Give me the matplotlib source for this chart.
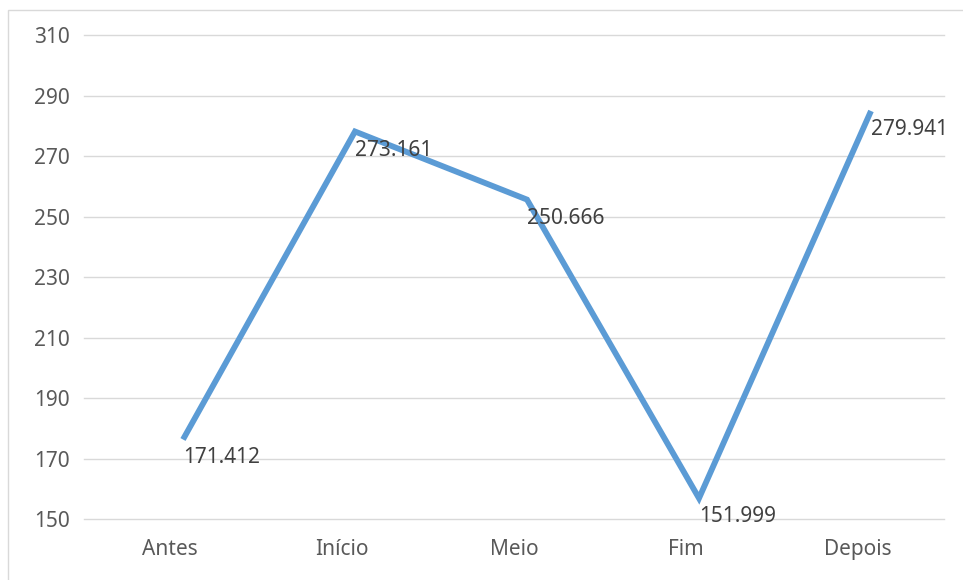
import matplotlib
matplotlib.use("Agg")
import matplotlib.pyplot as plt
import matplotlib.transforms as mtransforms
from matplotlib.patches import Rectangle

plt.rcParams['font.family'] = ['Noto Sans', 'DejaVu Sans']

categories = ['Antes', 'Início', 'Meio', 'Fim', 'Depois']
values = [171.412, 273.161, 250.666, 151.999, 279.941]
value_labels = ['171.412', '273.161', '250.666', '151.999', '279.941']
yticks = [150, 170, 190, 210, 230, 250, 270, 290, 310]

fig = plt.figure(figsize=(9.63, 5.8), dpi=100)
ax = fig.add_axes([84 / 963, 1 - 519.3 / 580, 860 / 963, (519.3 - 35) / 580])

# chart frame (only top and left edges show in the screenshot)
fig.patches.append(Rectangle((7.5 / 963, -0.1), 1.2, 1.1 - 10 / 580,
                             transform=fig.transFigure, fill=False,
                             edgecolor='#D9D9D9', linewidth=1.0))

x = list(range(len(categories)))

# the line sits a little right of / above the labelled values in the source
shift = mtransforms.offset_copy(ax.transData, fig=fig, x=13, y=15, units='dots')
ax.plot(x, values, color='#5B9BD5', linewidth=4.2, solid_joinstyle='miter',
        solid_capstyle='butt', transform=shift, zorder=3)

for xi, v, lab in zip(x, values, value_labels):
    ax.annotate(lab, (xi, v), xytext=(13, -9), textcoords='offset pixels',
                ha='left', va='baseline', fontsize=15, color='#404040', zorder=4)

ax.set_xlim(-0.5, len(categories) - 0.5)
ax.set_ylim(150, 310)
ax.set_yticks(yticks)
ax.set_xticks(x)
ax.set_xticklabels(categories)
ax.grid(axis='y', color='#D9D9D9', linewidth=1.0)
for gl in ax.get_ygridlines():
    gl.set_clip_on(False)
ax.set_axisbelow(True)
for s in ax.spines.values():
    s.set_visible(False)
ax.tick_params(axis='both', length=0, labelsize=15, labelcolor='#595959')
ax.tick_params(axis='y', pad=10)
ax.tick_params(axis='x', pad=14)

fig.savefig('out.png', dpi=100)
